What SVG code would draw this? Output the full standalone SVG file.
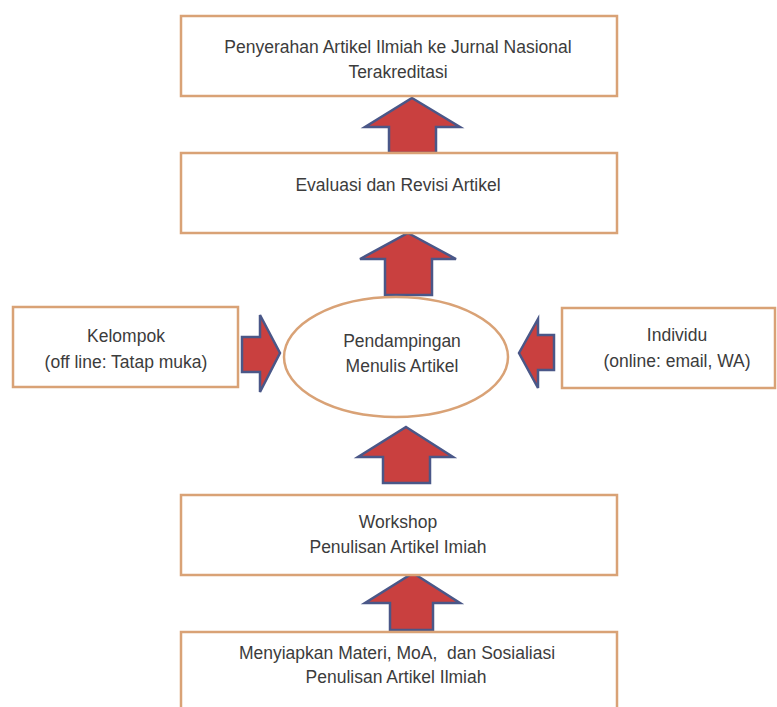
<svg xmlns="http://www.w3.org/2000/svg" width="777" height="707" viewBox="0 0 777 707">
<style>
.box{fill:#ffffff;stroke:#d9a276;stroke-width:2.5}
.arr{fill:#c9403f;stroke:#4a5788;stroke-width:2.5;stroke-linejoin:miter}
.t{font-family:"Liberation Sans",Arial,sans-serif;font-size:17.5px;fill:#3c3c3c;text-anchor:middle}
</style>
<rect width="777" height="707" fill="#ffffff"/>
<g id="connectors">
<polygon class="arr" points="412,98 460,127 436,127 436,153 389,153 389,127 365,127"/>
<polygon class="arr" points="408,233 456,259 432,259 432,295 385,295 385,259 360,259"/>
<polygon class="arr" points="406,427 453,457 430,457 430,483 383,483 383,457 358,457"/>
<polygon class="arr" points="413,573 460,603 433,603 433,630 390,630 390,603 365,603"/>
<polygon class="arr" points="280,353 260,315 260,337 242,337 242,372 260,372 260,392"/>
<polygon class="arr" points="519,353 538,319 538,335 554,335 554,370 538,370 538,388"/>
</g>
<g id="n1"><rect class="box" x="181" y="16" width="436" height="80"/>
<text class="t" x="398" y="53">Penyerahan Artikel Ilmiah ke Jurnal Nasional</text>
<text class="t" x="398" y="78">Terakreditasi</text></g>
<g id="n2"><rect class="box" x="181" y="153" width="436" height="80"/>
<text class="t" x="398" y="191">Evaluasi dan Revisi Artikel</text></g>
<g id="n3"><ellipse class="box" cx="396" cy="357" rx="112" ry="60"/>
<text class="t" x="402" y="347">Pendampingan</text>
<text class="t" x="402" y="372">Menulis Artikel</text></g>
<g id="n4"><rect class="box" x="13" y="307" width="225" height="80"/>
<text class="t" x="126" y="342">Kelompok</text>
<text class="t" x="126" y="368">(off line: Tatap muka)</text></g>
<g id="n5"><rect class="box" x="562" y="308" width="213" height="80"/>
<text class="t" x="677" y="341">Individu</text>
<text class="t" x="677" y="367">(online: email, WA)</text></g>
<g id="n6"><rect class="box" x="181" y="495" width="436" height="80"/>
<text class="t" x="398" y="528">Workshop</text>
<text class="t" x="398" y="553">Penulisan Artikel Imiah</text></g>
<g id="n7"><rect class="box" x="181" y="632" width="436" height="90"/>
<text class="t" x="397" y="659" xml:space="preserve">Menyiapkan Materi, MoA,  dan Sosialiasi</text>
<text class="t" x="396" y="683">Penulisan Artikel Ilmiah</text></g>
</svg>
